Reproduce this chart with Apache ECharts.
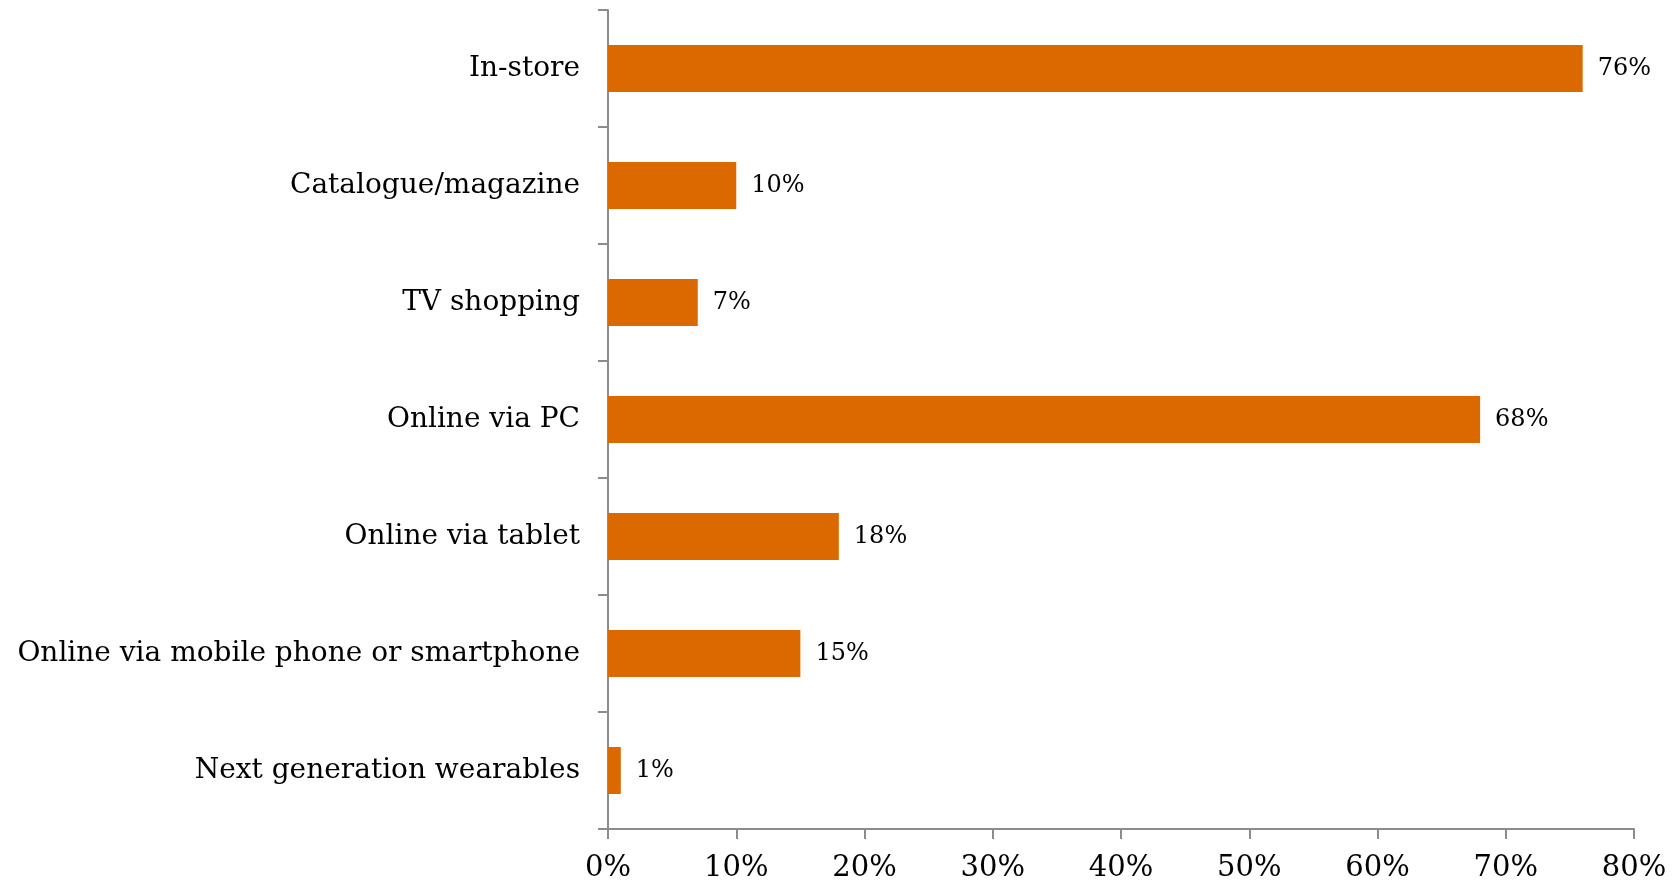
<!DOCTYPE html>
<html>
<head>
<meta charset="utf-8">
<style>
  html, body { margin: 0; padding: 0; background: #ffffff; }
  #chart { width: 1677px; height: 885px; }
</style>
<script src="https://cdn.jsdelivr.net/npm/echarts@6/dist/echarts.min.js"></script>
</head>
<body>
<div id="chart"></div>
<script>
// Shopping channels used, share of respondents (%)
const categories = [
  'In-store',
  'Catalogue/magazine',
  'TV shopping',
  'Online via PC',
  'Online via tablet',
  'Online via mobile phone or smartphone',
  'Next generation wearables'
];
const shares = [76, 10, 7, 68, 18, 15, 1];
const axisMax = 80;
const axisStep = 10;

const serif = '"DejaVu Serif", "Liberation Serif", serif';
const axisGrey = '#8c8c8c';

const chart = echarts.init(document.getElementById('chart'), null, { renderer: 'canvas' });
chart.setOption({
  animation: false,
  backgroundColor: '#ffffff',
  grid: { left: 608, right: 43, top: 10, bottom: 56, containLabel: false },
  xAxis: {
    type: 'value',
    min: 0,
    max: axisMax,
    interval: axisStep,
    axisLine: { show: true, lineStyle: { color: axisGrey, width: 2 } },
    axisTick: { show: true, length: 10, lineStyle: { color: axisGrey, width: 2 } },
    splitLine: { show: false },
    axisLabel: {
      formatter: '{value}%',
      fontFamily: serif,
      fontSize: 29,
      color: '#000000',
      margin: 25
    }
  },
  yAxis: {
    type: 'category',
    data: categories,
    inverse: true,
    axisLine: { show: true, lineStyle: { color: axisGrey, width: 2 } },
    axisTick: { show: true, length: 10, alignWithLabel: false, lineStyle: { color: axisGrey, width: 2 } },
    axisLabel: {
      fontFamily: serif,
      fontSize: 28,
      color: '#000000',
      margin: 28
    }
  },
  series: [{
    type: 'bar',
    data: shares,
    barWidth: 47,
    itemStyle: { color: '#dc6900' },
    label: {
      show: true,
      position: 'right',
      distance: 15,
      formatter: '{c}%',
      fontFamily: serif,
      fontSize: 24,
      color: '#000000'
    }
  }]
});
</script>
</body>
</html>
